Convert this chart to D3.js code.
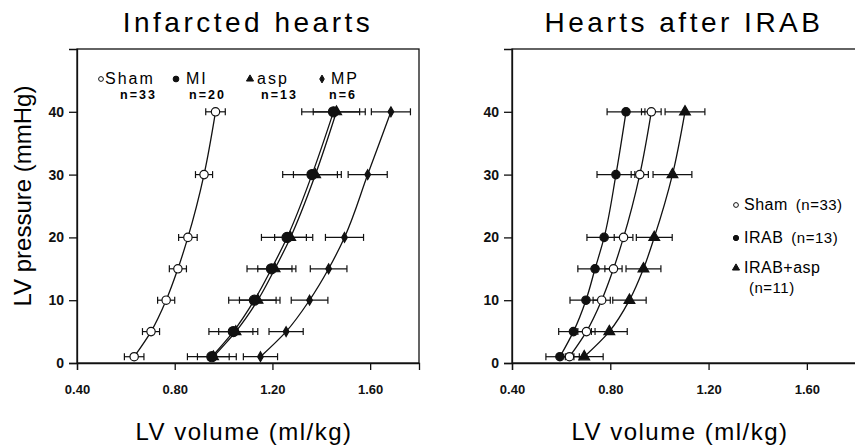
<!DOCTYPE html>
<html>
<head>
<meta charset="utf-8">
<script src="https://cdn.jsdelivr.net/npm/d3@7"></script>
<style>
  body { margin: 0; background: #fff; }
  svg { display: block; font-family: "Liberation Sans", Arial, sans-serif; }
  .tick text { font-weight: bold; font-size: 13px; fill: #111; }
  .tick line, .domain { stroke: #111; stroke-width: 1.3; }
</style>
</head>
<body>
<div id="chart"></div>
<script>
// pressure levels (mmHg) shared by every curve
var pressure = [1, 5, 10, 15, 20, 30, 40];

// infarcted hearts panel, volumes in ml/kg
var shamVol = [0.634, 0.703, 0.765, 0.813, 0.854, 0.92, 0.967];
var shamSE = [0.04, 0.035, 0.035, 0.035, 0.038, 0.035, 0.04];
var miVol = [0.952, 1.04, 1.126, 1.196, 1.26, 1.362, 1.45];
var miSE = [0.1, 0.1, 0.105, 0.1, 0.105, 0.12, 0.13];
var aspVol = [0.958, 1.05, 1.14, 1.21, 1.274, 1.376, 1.462];
var aspSE = [0.065, 0.07, 0.075, 0.07, 0.065, 0.09, 0.095];
var mpVol = [1.151, 1.256, 1.352, 1.43, 1.495, 1.59, 1.685];
var mpSE = [0.07, 0.07, 0.075, 0.075, 0.078, 0.08, 0.08];

// hearts after IRAB panel
var irabVol = [0.595, 0.65, 0.701, 0.738, 0.775, 0.823, 0.864];
var irabSE = [0.057, 0.06, 0.065, 0.07, 0.07, 0.077, 0.077];
var irabAspVol = [0.694, 0.796, 0.878, 0.935, 0.979, 1.053, 1.104];
var irabAspSE = [0.077, 0.073, 0.068, 0.071, 0.073, 0.079, 0.081];

var xTicks = [0.4, 0.8, 1.2, 1.6];
var yTicks = [0, 10, 20, 30, 40];

var svg = d3.select("#chart").append("svg")
  .attr("width", 855)
  .attr("height", 448);

svg.append("rect").attr("width", 855).attr("height", 448).attr("fill", "#fff");

function drawPanel(opts) {
  var x = d3.scaleLinear().domain([0.4, 1.8]).range([opts.left, opts.right]);
  var y = d3.scaleLinear().domain([0, 50]).range([363, 49]);
  var g = svg.append("g");

  // frame
  g.append("rect")
    .attr("x", opts.left).attr("y", y(50))
    .attr("width", opts.right - opts.left).attr("height", y(0) - y(50))
    .attr("fill", "none").attr("stroke", "#111").attr("stroke-width", 1.3);

  g.append("g")
    .attr("transform", "translate(0," + y(0) + ")")
    .call(d3.axisBottom(x).tickValues(xTicks).tickFormat(d3.format(".2f")).tickSizeOuter(0).tickSize(7).tickPadding(15));

  g.append("g")
    .attr("transform", "translate(" + opts.left + ",0)")
    .call(d3.axisLeft(y).tickValues(yTicks).tickFormat(d3.format("d")).tickSizeOuter(0).tickSize(8).tickPadding(5))
    .selectAll(".tick text").style("font-size", "14px");

  var line = d3.line()
    .x(function(d) { return x(d[0]); })
    .y(function(d) { return y(d[1]); })
    .curve(d3.curveMonotoneY);

  opts.series.forEach(function(s) {
    var pts = s.vol.map(function(v, i) { return [v, pressure[i], s.se[i]]; });
    g.append("path").datum(pts)
      .attr("d", line).attr("fill", "none")
      .attr("stroke", "#111").attr("stroke-width", 1.3);
  });

  opts.series.forEach(function(s) {
    var pts = s.vol.map(function(v, i) { return [v, pressure[i], s.se[i]]; });
    var eb = g.append("g").attr("stroke", "#111").attr("stroke-width", 1.2);
    eb.selectAll(".bar").data(pts).enter().append("line")
      .attr("x1", function(d) { return x(d[0] - d[2]); })
      .attr("x2", function(d) { return x(d[0] + d[2]); })
      .attr("y1", function(d) { return y(d[1]); })
      .attr("y2", function(d) { return y(d[1]); });
    [-1, 1].forEach(function(sign) {
      eb.selectAll(".cap" + sign).data(pts).enter().append("line")
        .attr("x1", function(d) { return x(d[0] + sign * d[2]); })
        .attr("x2", function(d) { return x(d[0] + sign * d[2]); })
        .attr("y1", function(d) { return y(d[1]) - 3.5; })
        .attr("y2", function(d) { return y(d[1]) + 3.5; });
    });
  });

  opts.series.forEach(function(s) {
    var pts = s.vol.map(function(v, i) { return [v, pressure[i]]; });
    g.selectAll(null).data(pts).enter().append("path")
      .attr("transform", function(d) { return "translate(" + x(d[0]) + "," + y(d[1]) + ")"; })
      .attr("d", d3.symbol().type(s.shape).size(s.size))
      .attr("fill", s.fill)
      .attr("stroke", "#111").attr("stroke-width", 1.2);
  });

  // panel title
  svg.append("text")
    .attr("x", (opts.left + opts.right) / 2).attr("y", 32)
    .attr("text-anchor", "middle")
    .style("font-size", "28px").style("letter-spacing", "3.5px")
    .text(opts.title);

  svg.append("text")
    .attr("x", (opts.left + opts.right) / 2 - 4).attr("y", 440)
    .attr("text-anchor", "middle")
    .style("font-size", "24px").style("letter-spacing", "1.5px")
    .text("LV volume (ml/kg)");

  return g;
}

drawPanel({
  left: 77, right: 419, title: "Infarcted hearts",
  series: [
    { vol: shamVol, se: shamSE, shape: d3.symbolCircle, size: 55, fill: "#fff" },
    { vol: aspVol, se: aspSE, shape: d3.symbolTriangle, size: 45, fill: "#111" },
    { vol: mpVol, se: mpSE, shape: d3.symbolDiamond, size: 28, fill: "#111" },
    { vol: miVol, se: miSE, shape: d3.symbolCircle, size: 80, fill: "#111" }
  ]
});

drawPanel({
  left: 512, right: 856, title: "Hearts after IRAB",
  series: [
    { vol: shamVol, se: shamSE, shape: d3.symbolCircle, size: 55, fill: "#fff" },
    { vol: irabVol, se: irabSE, shape: d3.symbolCircle, size: 55, fill: "#111" },
    { vol: irabAspVol, se: irabAspSE, shape: d3.symbolTriangle, size: 50, fill: "#111" }
  ]
});

// y axis title
svg.append("text")
  .attr("transform", "translate(31,196) rotate(-90)")
  .attr("text-anchor", "middle")
  .style("font-size", "24px")
  .text("LV pressure (mmHg)");

// left legend
var legL = svg.append("g");
var legLeft = [
  { shape: d3.symbolCircle, fill: "#fff", size: 18, mx: 101, tx: 105, label: "Sham", nx: 120, n: "n=33" },
  { shape: d3.symbolCircle, fill: "#111", size: 26, mx: 176, tx: 186, label: "MI", nx: 189, n: "n=20" },
  { shape: d3.symbolTriangle, fill: "#111", size: 22, mx: 250, tx: 257, label: "asp", nx: 261, n: "n=13" },
  { shape: d3.symbolDiamond, fill: "#111", size: 18, mx: 322, tx: 331, label: "MP", nx: 329, n: "n=6" }
];
legLeft.forEach(function(d) {
  legL.append("path")
    .attr("transform", "translate(" + d.mx + ",79)")
    .attr("d", d3.symbol().type(d.shape).size(d.size))
    .attr("fill", d.fill).attr("stroke", "#111").attr("stroke-width", 1);
  legL.append("text").attr("x", d.tx).attr("y", 84)
    .style("font-size", "16px").style("letter-spacing", "2px").text(d.label);
  legL.append("text").attr("x", d.nx).attr("y", 99)
    .style("font-size", "12.5px").style("font-weight", "bold").style("letter-spacing", "2px").text(d.n);
});

// right legend
var legR = svg.append("g");
var legRight = [
  { shape: d3.symbolCircle, fill: "#fff", size: 18, y: 210, label: "Sham", n: "(n=33)" },
  { shape: d3.symbolCircle, fill: "#111", size: 22, y: 243, label: "IRAB", n: "(n=13)" },
  { shape: d3.symbolTriangle, fill: "#111", size: 22, y: 273, label: "IRAB+asp", n: "" }
];
legRight.forEach(function(d) {
  legR.append("path")
    .attr("transform", "translate(736," + (d.y - 5) + ")")
    .attr("d", d3.symbol().type(d.shape).size(d.size))
    .attr("fill", d.fill).attr("stroke", "#111").attr("stroke-width", 1);
  var t = legR.append("text").attr("x", 744).attr("y", d.y)
    .style("font-size", "16px").style("letter-spacing", "0.5px");
  t.append("tspan").text(d.label);
  if (d.n) t.append("tspan").attr("dx", 8).style("font-size", "15px").text(d.n);
});
legR.append("text").attr("x", 749).attr("y", 293)
  .style("font-size", "15px").style("letter-spacing", "0.5px").text("(n=11)");
</script>
</body>
</html>
